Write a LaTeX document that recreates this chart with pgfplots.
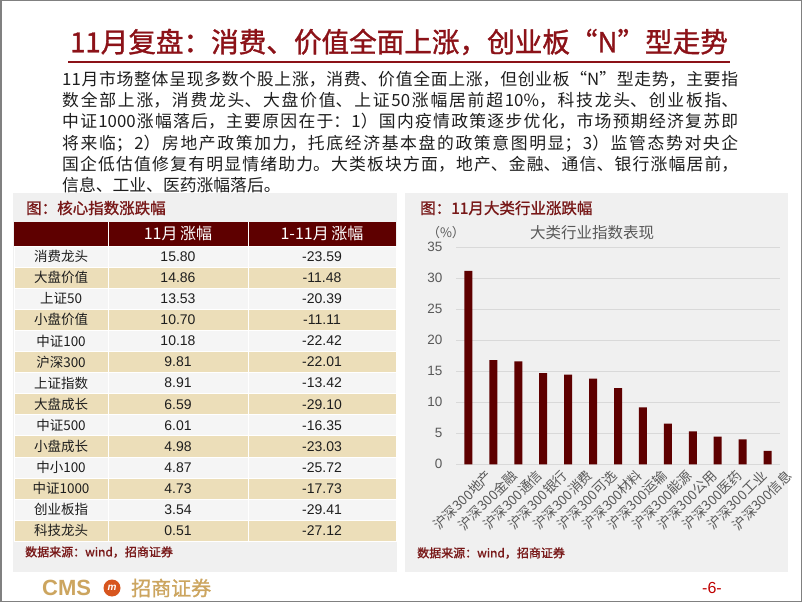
\documentclass[border=0pt]{standalone}
\usepackage{pgfplots}
\pgfplotsset{compat=1.18}
\usepackage{fontspec}
\setmainfont{Noto Sans CJK SC}
\newfontfamily\cjk{Noto Sans CJK SC}
\newfontfamily\cjkfb[FakeBold=1.2]{Noto Sans CJK SC}
\newfontfamily\arial{Liberation Sans}
\XeTeXlinebreaklocale "zh"
\XeTeXlinebreakskip=0pt plus 3pt minus 0.6pt
\definecolor{titlered}{RGB}{140,18,24}
\definecolor{maroon}{RGB}{94,0,0}
\definecolor{beige}{RGB}{236,222,185}
\definecolor{panel}{RGB}{240,240,240}
\definecolor{rowlight}{RGB}{245,245,245}
\definecolor{ptitle}{RGB}{120,24,24}
\definecolor{gold}{RGB}{204,165,95}
\definecolor{tickgray}{RGB}{89,89,89}
\definecolor{framegray}{RGB}{128,128,128}
\definecolor{gridgray}{RGB}{217,217,217}
\definecolor{bodytext}{RGB}{30,30,30}
\definecolor{logoorange}{RGB}{215,85,30}
\definecolor{pagered}{RGB}{192,0,0}
\begin{document}
\begin{tikzpicture}[x=1pt,y=1pt]
\useasboundingbox (0,0) rectangle (802,602);
\fill[white] (0,0) rectangle (802,602);
% title
\node[anchor=center, text=titlered, font=\fontsize{27.6}{27.6}\selectfont\cjkfb, inner sep=0pt] at (399,560)
  {11月复盘：消费、价值全面上涨，创业板“N”型走势};
\draw[titlered, line width=1.5pt] (68,540) -- (730,540);
% paragraph
\node[anchor=north west, inner sep=0pt, text=bodytext, font=\fontsize{16.8}{21.2}\selectfont\cjk] at (62,531)
{\parbox[t]{676pt}{\fontsize{16.8}{21.2}\selectfont 11月市场整体呈现多数个股上涨，消费、价值全面上涨，但创业板“N”型走势，主要指\linebreak
数全部上涨，消费龙头、大盘价值、上证50涨幅居前超10\%，科技龙头、创业板指、\linebreak
中证1000涨幅落后，主要原因在于：1）国内疫情政策逐步优化，市场预期经济复苏即\linebreak
将来临；2）房地产政策加力，托底经济基本盘的政策意图明显；3）监管态势对央企\linebreak
国企低估值修复有明显情绪助力。大类板块方面，地产、金融、通信、银行涨幅居前，\linebreak
信息、工业、医药涨幅落后。}};
% panels
\fill[panel] (13,30) rectangle (397,409);
\fill[panel] (405,30) rectangle (788,409);
\node[anchor=west, inner sep=0pt, text=ptitle, font=\fontsize{15.5}{15.5}\selectfont\cjkfb] at (26,394) {图：核心指数涨跌幅};
\node[anchor=west, inner sep=0pt, text=ptitle, font=\fontsize{15.5}{15.5}\selectfont\cjkfb] at (420,394) {图：11月大类行业涨跌幅};
% table header
\fill[maroon] (14,356) rectangle (396,380);
\draw[white, line width=1pt] (108,356) -- (108,380) (248,356) -- (248,380);
\node[text=white, font=\fontsize{16}{16}\selectfont\cjk] at (178,368.5) {11月\,涨幅};
\node[text=white, font=\fontsize{16}{16}\selectfont\cjk] at (322,368.5) {1-11月\,涨幅};
% table rows
\foreach \lab/\a/\b [count=\i from 0] in {消费龙头/15.80/-23.59, 大盘价值/14.86/-11.48, 上证50/13.53/-20.39, 小盘价值/10.70/-11.11, 中证100/10.18/-22.42, 沪深300/9.81/-22.01, 上证指数/8.91/-13.42, 大盘成长/6.59/-29.10, 中证500/6.01/-16.35, 小盘成长/4.98/-23.03, 中小100/4.87/-25.72, 中证1000/4.73/-17.73, 创业板指/3.54/-29.41, 科技龙头/0.51/-27.12}{
  \pgfmathsetmacro\yt{356-21.1*\i}
  \pgfmathsetmacro\yb{\yt-21.1}
  \pgfmathsetmacro\yc{\yt-10.55}
  \ifodd\i \def\rc{beige}\else\def\rc{rowlight}\fi
  \fill[\rc, draw=white, line width=0.8pt] (14,\yb) rectangle (108,\yt);
  \fill[\rc, draw=white, line width=0.8pt] (108,\yb) rectangle (248,\yt);
  \fill[\rc, draw=white, line width=0.8pt] (248,\yb) rectangle (396,\yt);
  \node[text=bodytext, font=\fontsize{13.5}{13.5}\selectfont\cjk] at (61,\yc) {\lab};
  \node[text=bodytext, font=\fontsize{14}{14}\selectfont\arial] at (178,\yc) {\a};
  \node[text=bodytext, font=\fontsize{14}{14}\selectfont\arial] at (322,\yc) {\b};
}
% sources
\node[anchor=west, inner sep=0pt, text=ptitle, font=\fontsize{12}{12}\selectfont\cjkfb] at (25,50) {数据来源：wind，招商证券};
\node[anchor=west, inner sep=0pt, text=ptitle, font=\fontsize{12}{12}\selectfont\cjkfb] at (417,49) {数据来源：wind，招商证券};
% chart titles
\node[text=tickgray, font=\fontsize{15.5}{15.5}\selectfont\cjk] at (592,369) {大类行业指数表现};
\node[text=tickgray, font=\fontsize{13}{13}\selectfont\cjk] at (446,369) {（\%）};
% chart
\begin{axis}[
  at={(456pt,137.7pt)}, anchor=south west,
  scale only axis, width=324pt, height=217pt,
  xmin=-0.5, xmax=12.5, ymin=0, ymax=35,
  axis line style={draw=none},
  ytick={0,5,10,15,20,25,30,35},
  ymajorgrids, grid style={draw=gridgray, line width=0.8pt},
  major tick length=0pt,
  xtick={0,1,2,3,4,5,6,7,8,9,10,11,12},
  xticklabels={沪深300地产,沪深300金融,沪深300通信,沪深300银行,沪深300消费,沪深300可选,沪深300材料,沪深300运输,沪深300能源,沪深300公用,沪深300医药,沪深300工业,沪深300信息},
  xticklabel style={rotate=45, anchor=north east, font=\fontsize{13.5}{13.5}\selectfont\cjk, text=tickgray, inner sep=0pt, xshift=9pt, yshift=-15pt},
  yticklabel style={font=\fontsize{13.5}{13.5}\selectfont\arial, text=tickgray, xshift=-10pt},
  /pgf/number format/assume math mode=true,
  ybar, bar width=8pt,
  clip=false,
]
\addplot[fill=maroon, draw=none] coordinates {(0,31.2) (1,16.8) (2,16.6) (3,14.7) (4,14.45) (5,13.8) (6,12.3) (7,9.2) (8,6.55) (9,5.3) (10,4.45) (11,4.0) (12,2.15)};
\end{axis}
% footer
\node[anchor=west, inner sep=0pt, text=gold, font=\fontsize{22}{22}\selectfont\arial\bfseries] at (42,14) {CMS};
\fill[logoorange] (112,14) circle (8.5);
\node[text=white, font=\fontsize{10}{10}\selectfont\arial\bfseries\itshape] at (112,14) {m};
\node[anchor=west, inner sep=0pt, text=gold, font=\fontsize{20}{20}\selectfont\cjkfb] at (131,14) {招商证券};
\node[text=pagered, font=\fontsize{16}{16}\selectfont\arial] at (712,14) {-6-};
\draw[framegray, line width=1.5pt] (0.75,0.75) rectangle (801.25,601.25);
\end{tikzpicture}
\end{document}
